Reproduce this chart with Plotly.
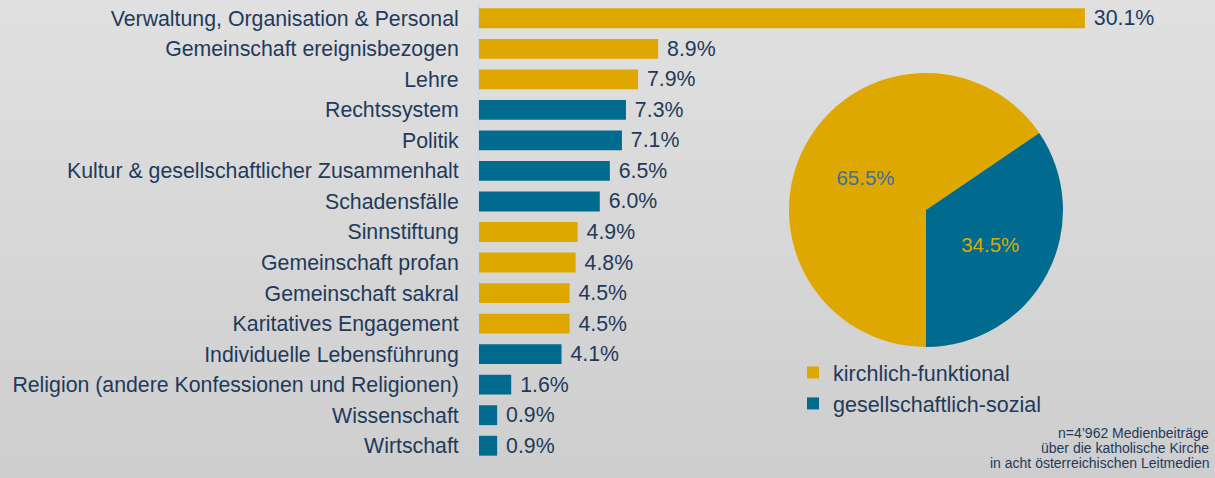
import plotly.graph_objects as go

categories = [
    "Verwaltung, Organisation & Personal",
    "Gemeinschaft ereignisbezogen",
    "Lehre",
    "Rechtssystem",
    "Politik",
    "Kultur & gesellschaftlicher Zusammenhalt",
    "Schadensfälle",
    "Sinnstiftung",
    "Gemeinschaft profan",
    "Gemeinschaft sakral",
    "Karitatives Engagement",
    "Individuelle Lebensführung",
    "Religion (andere Konfessionen und Religionen)",
    "Wissenschaft",
    "Wirtschaft",
]
values = [30.1, 8.9, 7.9, 7.3, 7.1, 6.5, 6.0, 4.9, 4.8, 4.5, 4.5, 4.1, 1.6, 0.9, 0.9]
groups = ["k", "k", "k", "g", "g", "g", "g", "k", "k", "k", "k", "g", "g", "g", "g"]

pie_labels = ["kirchlich-funktional", "gesellschaftlich-sozial"]
pie_values = [65.5, 34.5]

footnote = ["n=4’962 Medienbeiträge", "über die katholische Kirche", "in acht österreichischen Leitmedien"]

GOLD = "#dfa800"
BLUE = "#006a8f"
NAVY = "#1f3a5a"
FONT = "Arial, Liberation Sans, sans-serif"

color_map = {"k": GOLD, "g": BLUE}
bar_colors = [color_map[g] for g in groups]

fig = go.Figure()

# background gradient bands
n_bands = 24
top_rgb = (224, 224, 224)
bot_rgb = (206, 206, 206)
for i in range(n_bands):
    t = i / (n_bands - 1)
    c = tuple(round(top_rgb[j] + (bot_rgb[j] - top_rgb[j]) * t) for j in range(3))
    fig.add_shape(type="rect", xref="paper", yref="paper",
                  x0=0, x1=1, y0=1 - (i + 1) / n_bands, y1=1 - i / n_bands,
                  fillcolor="rgb(%d,%d,%d)" % c, line_width=0, layer="below")

fig.add_trace(go.Bar(
    x=values, y=categories, orientation="h",
    marker=dict(color=bar_colors, line=dict(width=0)),
    text=["\u00a0" + f"{v:.1f}%" for v in values],
    textposition="outside", constraintext="none", cliponaxis=False,
    textfont=dict(family=FONT, size=21.3, color=NAVY),
    showlegend=False, hoverinfo="skip",
))

fig.add_trace(go.Pie(
    labels=pie_labels, values=pie_values, sort=False, direction="clockwise",
    rotation=180,
    marker=dict(colors=[GOLD, BLUE], line=dict(width=0)),
    texttemplate="%{value:.1f}%", textposition="inside",
    insidetextorientation="horizontal",
    textfont=dict(family=FONT, size=20.5, color=["#3d6e9e", GOLD]),
    domain=dict(x=[789 / 1215, 1063 / 1215], y=[1 - 347 / 478, 1 - 73 / 478]),
    showlegend=True, hoverinfo="skip",
))

for i, line in enumerate(footnote):
    fig.add_annotation(
        xref="paper", yref="paper", x=1211 / 1215, y=1 - (433 + 15 * i) / 478,
        xanchor="right", yanchor="middle", align="right", showarrow=False,
        text=line, font=dict(family=FONT, size=14, color=NAVY),
    )

fig.update_layout(
    width=1215, height=478,
    margin=dict(l=0, r=0, t=0, b=0),
    paper_bgcolor="#d8d8d8", plot_bgcolor="rgba(0,0,0,0)",
    bargap=0.35,
    font=dict(family=FONT, color=NAVY),
    xaxis=dict(domain=[479 / 1215, 1], range=[0, (1215 - 479) / 20.13],
               visible=False, fixedrange=True),
    yaxis=dict(domain=[17 / 478, 475 / 478], autorange="reversed",
               showline=True, linecolor="#c9d6e3", linewidth=1,
               ticks="outside", ticklen=15, tickcolor="rgba(0,0,0,0)",
               tickfont=dict(family=FONT, size=21.3, color=NAVY),
               showgrid=False, zeroline=False, automargin=False),
    legend=dict(x=793 / 1215, y=1 - 352 / 478, xanchor="left", yanchor="top",
                font=dict(family=FONT, size=21.5, color=NAVY),
                bgcolor="rgba(0,0,0,0)", itemwidth=30),
)

fig.write_html("out.html", config={"displayModeBar": False, "staticPlot": True},
               post_script="document.body.style.margin='0';document.body.style.overflow='hidden';")
